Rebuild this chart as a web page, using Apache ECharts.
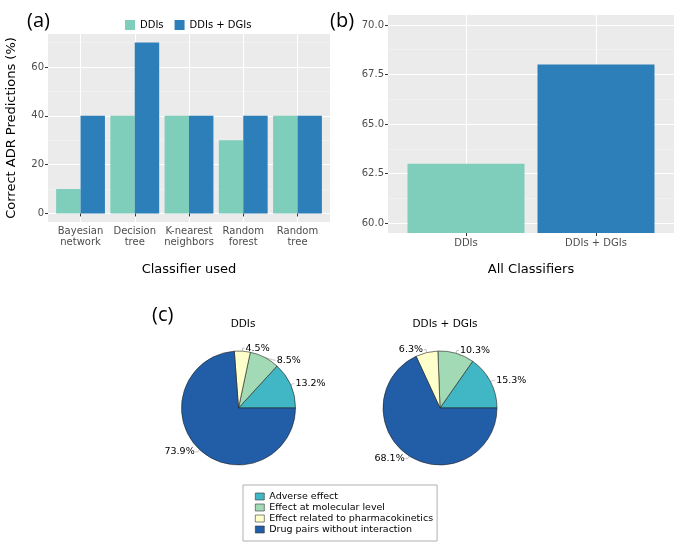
<html lang="en">
<head>
  <meta charset="UTF-8">
  <title>ADR predictions</title>
  <style>
    html, body { margin: 0; padding: 0; background: #fff; }
    #main { width: 675px; height: 543px; }
  </style>
</head>
<body>
  <div id="main"></div>
  <script src="https://cdn.jsdelivr.net/npm/echarts@6/dist/echarts.min.js"></script>
  <script>
    // panel (a)
    var classifiers = ['Bayesian\nnetwork', 'Decision\ntree', 'K-nearest\nneighbors', 'Random\nforest', 'Random\ntree']
    var ddiScores = [10, 40, 40, 30, 40]
    var ddiDgiScores = [40, 70, 40, 40, 40]
    var ticksA = [0, 20, 40, 60]
    var minorTicksA = [10, 30, 50, 70]
    // panel (b)
    var groups = ['DDIs', 'DDIs + DGIs']
    var allScores = [63.0, 68.0]
    var ticksB = [60, 62.5, 65, 67.5, 70]
    var minorTicksB = [61.25, 63.75, 66.25, 68.75]
    // panel (c)
    var effectTypes = ['Adverse effect', 'Effect at molecular level', 'Effect related to pharmacokinetics', 'Drug pairs without interaction']
    var ddiShares = [13.2, 8.5, 4.5, 73.9]
    var ddiDgiShares = [15.3, 10.3, 6.3, 68.1]

    var barColors = ['#7fcdbb', '#2c7fb8']
    var pieColors = ['#41b6c4', '#a1dab4', '#ffffcc', '#225ea8']
    var font = 'DejaVu Sans'
    var axisText = { color: '#4d4d4d', fontSize: 10, fontFamily: font }
    var bg = '#ebebeb'

    var classPos = classifiers.map(function (c, i) { return i + 1 })
    var groupPos = groups.map(function (c, i) { return i + 1 })

    function pieData(vals) {
      return vals.map(function (v, i) {
        return { name: effectTypes[i], value: v, itemStyle: { color: pieColors[i] } }
      })
    }

    function hiddenAxis(o) {
      o.axisLine = { show: false }
      o.axisTick = o.axisTick || { show: false }
      o.axisLabel = o.axisLabel || { show: false }
      return o
    }

    function pieSeries(name, cx, vals) {
      return {
        name: name, type: 'pie', center: [cx, 408], radius: 57,
        startAngle: 0, clockwise: false,
        data: pieData(vals),
        itemStyle: { borderColor: '#222', borderWidth: 0.6 },
        label: { formatter: '{c}%', fontFamily: font, fontSize: 9.5, color: '#000', distanceToLabelLine: 1 },
        labelLine: { length: 3, length2: 2, lineStyle: { color: '#999', width: 0.6 } },
        emphasis: { disabled: true }
      }
    }

    var option = {
      animation: false,
      title: [
        { text: '(a)', left: 22, top: 6, textStyle: { fontFamily: 'Open Sans', fontWeight: 'normal', fontSize: 20, color: '#000' } },
        { text: '(b)', left: 325, top: 6, textStyle: { fontFamily: 'Open Sans', fontWeight: 'normal', fontSize: 20, color: '#000' } },
        { text: '(c)', left: 147, top: 300, textStyle: { fontFamily: 'Open Sans', fontWeight: 'normal', fontSize: 20, color: '#000' } },
        { text: 'DDIs', left: 238, top: 314, textAlign: 'center', textStyle: { fontFamily: font, fontWeight: 'normal', fontSize: 10.5, color: '#000' } },
        { text: 'DDIs + DGIs', left: 440, top: 314, textAlign: 'center', textStyle: { fontFamily: font, fontWeight: 'normal', fontSize: 10.5, color: '#000' } }
      ],
      legend: [
        {
          data: ['DDIs', 'DDIs + DGIs'],
          left: 120, top: 15,
          icon: 'rect', itemWidth: 10, itemHeight: 10, itemGap: 11,
          textStyle: { fontFamily: font, fontSize: 10, color: '#000' }
        },
        {
          data: effectTypes,
          orient: 'vertical',
          left: 243, top: 485,
          padding: [6, 4, 6, 12],
          borderColor: '#b0b0b0', borderWidth: 1,
          icon: 'rect', itemWidth: 9, itemHeight: 7, itemGap: 0,
          itemStyle: { borderColor: '#333', borderWidth: 0.6 },
          textStyle: { fontFamily: font, fontSize: 9.5, color: '#000', lineHeight: 11 }
        }
      ],
      grid: [
        { left: 48, top: 34, width: 282, height: 188, show: true, backgroundColor: bg, borderWidth: 0 },
        { left: 53.4, top: 34, width: 271.2, height: 188 },
        { left: 388, top: 15, width: 286, height: 218, show: true, backgroundColor: bg, borderWidth: 0 },
        { left: 401, top: 15, width: 260, height: 218 }
      ],
      xAxis: [
        hiddenAxis({
          type: 'value', gridIndex: 0, min: 0.4, max: 5.6,
          axisTick: { show: false, customValues: classPos },
          splitLine: { show: true, lineStyle: { color: '#fff', width: 1 } }
        }),
        {
          type: 'category', gridIndex: 1, data: classifiers,
          axisLine: { show: false },
          axisTick: { show: true, alignWithLabel: true, length: 3, lineStyle: { color: '#333' } },
          axisLabel: Object.assign({ margin: 4, lineHeight: 11, interval: 0, hideOverlap: false }, axisText),
          splitLine: { show: false },
          name: 'Classifier used', nameLocation: 'middle', nameGap: 41,
          nameTextStyle: { fontFamily: font, fontSize: 13, color: '#000' }
        },
        hiddenAxis({
          type: 'value', gridIndex: 2, min: 0.4, max: 2.6,
          axisTick: { show: false, customValues: groupPos },
          splitLine: { show: true, lineStyle: { color: '#fff', width: 1 } }
        }),
        {
          type: 'category', gridIndex: 3, data: groups,
          axisLine: { show: false },
          axisTick: { show: true, alignWithLabel: true, length: 3, lineStyle: { color: '#333' } },
          axisLabel: Object.assign({ margin: 5, interval: 0 }, axisText),
          splitLine: { show: false },
          name: 'All Classifiers', nameLocation: 'middle', nameGap: 30,
          nameTextStyle: { fontFamily: font, fontSize: 13, color: '#000' }
        }
      ],
      yAxis: [
        {
          type: 'value', gridIndex: 0, min: -3.5, max: 73.5,
          axisLine: { show: false },
          axisTick: { show: true, length: 3, customValues: ticksA, lineStyle: { color: '#333' } },
          axisLabel: Object.assign({ margin: 4, customValues: ticksA }, axisText),
          splitLine: { show: true, lineStyle: { color: '#fff', width: 1.1 } },
          name: 'Correct ADR Predictions (%)', nameLocation: 'middle', nameGap: 30,
          nameTextStyle: { fontFamily: font, fontSize: 13, color: '#000' }
        },
        hiddenAxis({
          type: 'value', gridIndex: 0, min: -3.5, max: 73.5,
          axisTick: { show: false, customValues: minorTicksA },
          splitLine: { show: true, lineStyle: { color: '#f5f5f5', width: 0.6 } }
        }),
        hiddenAxis({ type: 'value', gridIndex: 1, min: -3.5, max: 73.5, splitLine: { show: false } }),
        {
          type: 'value', gridIndex: 2, min: 59.5, max: 70.5,
          axisLine: { show: false },
          axisTick: { show: true, length: 3, customValues: ticksB, lineStyle: { color: '#333' } },
          axisLabel: Object.assign({
            margin: 4, customValues: ticksB,
            formatter: function (v) { return v.toFixed(1) }
          }, axisText),
          splitLine: { show: true, lineStyle: { color: '#fff', width: 1.1 } }
        },
        hiddenAxis({
          type: 'value', gridIndex: 2, min: 59.5, max: 70.5,
          axisTick: { show: false, customValues: minorTicksB },
          splitLine: { show: true, lineStyle: { color: '#f5f5f5', width: 0.6 } }
        }),
        hiddenAxis({ type: 'value', gridIndex: 3, min: 59.5, max: 70.5, splitLine: { show: false } })
      ],
      series: [
        {
          name: 'DDIs', type: 'bar', xAxisIndex: 1, yAxisIndex: 2,
          data: ddiScores, barGap: 0, barCategoryGap: '10%',
          itemStyle: { color: barColors[0] }
        },
        {
          name: 'DDIs + DGIs', type: 'bar', xAxisIndex: 1, yAxisIndex: 2,
          data: ddiDgiScores, barGap: 0, barCategoryGap: '10%',
          itemStyle: { color: barColors[1] }
        },
        {
          name: 'All', type: 'bar', xAxisIndex: 3, yAxisIndex: 5,
          barCategoryGap: '10%',
          data: allScores.map(function (v, i) { return { value: v, itemStyle: { color: barColors[i] } } })
        },
        pieSeries('pie DDIs', 238.5, ddiShares),
        pieSeries('pie DDIs + DGIs', 440, ddiDgiShares)
      ]
    }

    var chart = echarts.init(document.getElementById('main'))
    chart.setOption(option)
  </script>
</body>
</html>
